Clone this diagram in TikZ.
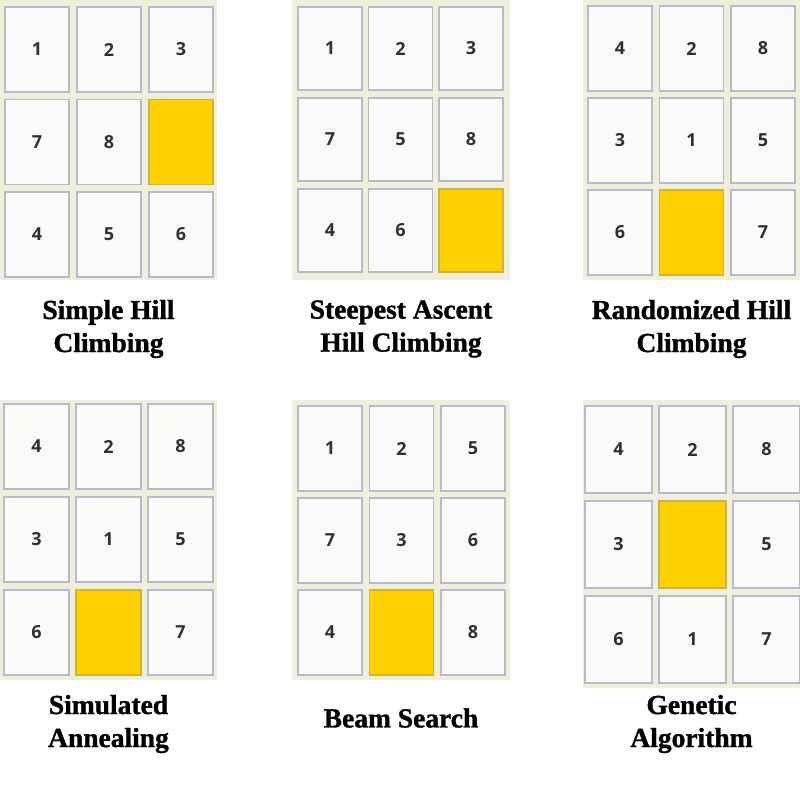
\documentclass[tikz,border=0pt]{standalone}
\usepackage{fontspec}
\setmainfont{Liberation Serif}
\newfontfamily\numerofont{Open Sans}
\newfontfamily\titulofont{Liberation Serif Bold}[FakeBold=1.2]
\definecolor{fundo}{HTML}{EFEEDB}
\definecolor{borda}{HTML}{B9B9CB}
\definecolor{branco}{HTML}{FAFAF8}
\definecolor{amarelo}{HTML}{FFD100}
\definecolor{bordaam}{HTML}{CDB23C}
\definecolor{texto}{HTML}{303030}

\begin{document}
\begin{tikzpicture}[
x=1pt, y=-1pt,
painel/.style={fill=fundo},
bloco/.style={
rectangle,
draw=borda,
fill=branco,
line width=1.2pt,
inner sep=0pt,
font=\numerofont\bfseries\fontsize{18}{18}\selectfont,
text=texto
},
vazio/.style={bloco, draw=bordaam, fill=amarelo},
titulo/.style={align=center, font=\titulofont\fontsize{27.5}{33}\selectfont}
]
\fill[white] (0,0) rectangle (800,800);
\useasboundingbox (0,0) rectangle (800,800);

% fundos dos tabuleiros
\fill[painel] (0,0) rectangle (217,280);
\fill[painel] (292,0) rectangle (510,280);
\fill[painel] (583,0) rectangle (800,280);
\fill[painel] (0,400) rectangle (217,680);
\fill[painel] (292,400) rectangle (510,680);
\fill[painel] (583,400) rectangle (800,688);

% pecas (0 = casa vazia)
\foreach \nome/\xo/\yo/\w/\h/\px/\py/\lista in {
p1/5/7/64/85/72/92.5/{1,2,3,7,8,0,4,5,6},
p2/298/7/64/83/70.5/91/{1,2,3,7,5,8,4,6,0},
p3/588/6/64/85/71.5/92/{4,2,8,3,1,5,6,0,7},
p4/4/404/65/85/72/93/{4,2,8,3,1,5,6,0,7},
p5/298/406/64/85/71.5/92/{1,2,5,7,3,6,4,0,8},
p6/585/406/67/87/74/95/{4,2,8,3,0,5,6,1,7}} {
\foreach \v [count=\i from 0] in \lista {
\pgfmathtruncatemacro\c{mod(\i,3)}
\pgfmathtruncatemacro\l{div(\i,3)}
\pgfmathsetmacro\cx{\xo+\c*\px+\w/2}
\pgfmathsetmacro\cy{\yo+\l*\py+\h/2}
\ifnum\v=0
\node[vazio, minimum width=\w pt, minimum height=\h pt] (\nome-\i) at (\cx,\cy) {};
\else
\node[bloco, minimum width=\w pt, minimum height=\h pt] (\nome-\i) at (\cx,\cy) {\v};
\fi
}
}

% titulos
\node[titulo] (t1) at (108.5,329) {Simple Hill\\Climbing};
\node[titulo] (t2) at (401,329) {Steepest Ascent\\Hill Climbing};
\node[titulo] (t3) at (691.5,329) {Randomized Hill\\Climbing};
\node[titulo] (t4) at (108.5,724) {Simulated\\Annealing};
\node[titulo] (t5) at (401,718) {Beam Search};
\node[titulo] (t6) at (691.5,724) {Genetic\\Algorithm};
\end{tikzpicture}
\end{document}
